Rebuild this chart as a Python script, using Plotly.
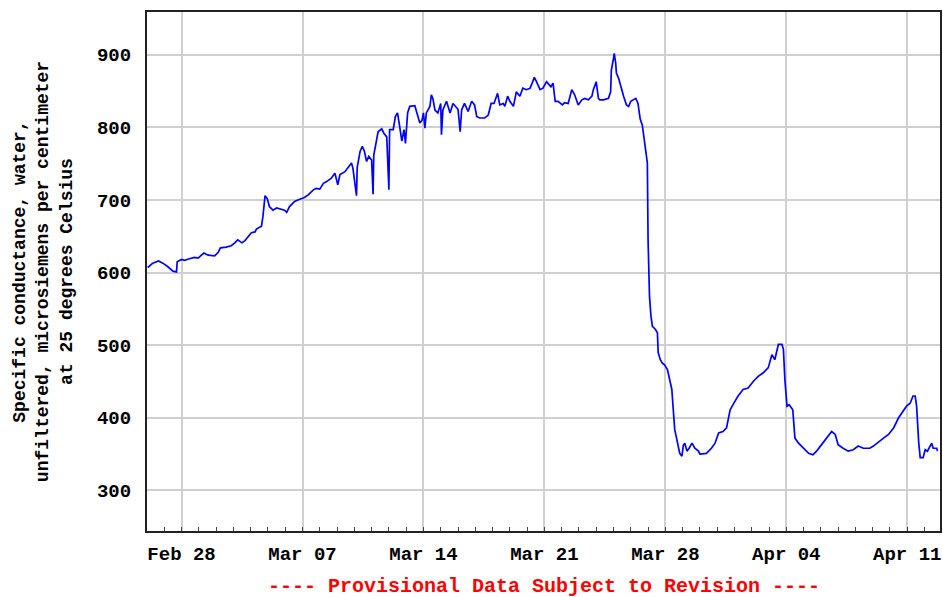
import pandas as pd
import plotly.graph_objects as go

# readings (local time) and specific conductance, uS/cm at 25 C
times = [
    "2023-02-26 01:00", "2023-02-26 08:00", "2023-02-26 16:00", "2023-02-26 22:00",
    "2023-02-27 05:00", "2023-02-27 12:00", "2023-02-27 17:00", "2023-02-27 18:00",
    "2023-02-28 00:00", "2023-02-28 04:00", "2023-02-28 11:00", "2023-02-28 18:00",
    "2023-02-28 23:00", "2023-03-01 07:00", "2023-03-01 13:00", "2023-03-01 22:00",
    "2023-03-02 03:00", "2023-03-02 06:00", "2023-03-02 14:00", "2023-03-02 21:00",
    "2023-03-03 02:00", "2023-03-03 06:00", "2023-03-03 12:00", "2023-03-03 16:00",
    "2023-03-04 01:00", "2023-03-04 06:00", "2023-03-04 08:00", "2023-03-04 15:00",
    "2023-03-04 17:00", "2023-03-04 20:00", "2023-03-04 23:00", "2023-03-05 02:00",
    "2023-03-05 07:00", "2023-03-05 12:00", "2023-03-05 23:00", "2023-03-06 02:00",
    "2023-03-06 06:00", "2023-03-06 13:00", "2023-03-06 20:00", "2023-03-07 02:00",
    "2023-03-07 08:00", "2023-03-07 15:00", "2023-03-07 19:00", "2023-03-08 00:00",
    "2023-03-08 05:00", "2023-03-08 09:00", "2023-03-08 16:00", "2023-03-08 21:00",
    "2023-03-09 01:00", "2023-03-09 04:00", "2023-03-09 11:00", "2023-03-09 15:00",
    "2023-03-09 20:00", "2023-03-09 22:00", "2023-03-10 03:00", "2023-03-10 04:00",
    "2023-03-10 08:00", "2023-03-10 11:00", "2023-03-10 14:00", "2023-03-10 17:00",
    "2023-03-10 20:00", "2023-03-11 00:00", "2023-03-11 02:00", "2023-03-11 03:00",
    "2023-03-11 07:00", "2023-03-11 09:00", "2023-03-11 14:00", "2023-03-11 17:00",
    "2023-03-11 21:00", "2023-03-12 00:00", "2023-03-12 01:00", "2023-03-12 06:00",
    "2023-03-12 09:00", "2023-03-12 12:00", "2023-03-12 15:00", "2023-03-12 18:00",
    "2023-03-12 21:00", "2023-03-12 23:00", "2023-03-13 02:00", "2023-03-13 05:00",
    "2023-03-13 12:00", "2023-03-13 16:00", "2023-03-13 19:00", "2023-03-13 22:00",
    "2023-03-14 00:00", "2023-03-14 02:00", "2023-03-14 04:00", "2023-03-14 09:00",
    "2023-03-14 11:00", "2023-03-14 13:00", "2023-03-14 16:00", "2023-03-14 20:00",
    "2023-03-15 00:00", "2023-03-15 01:00", "2023-03-15 03:00", "2023-03-15 08:00",
    "2023-03-15 13:00", "2023-03-15 17:00", "2023-03-16 00:00", "2023-03-16 03:00",
    "2023-03-16 05:00", "2023-03-16 09:00", "2023-03-16 14:00", "2023-03-16 19:00",
    "2023-03-16 23:00", "2023-03-17 02:00", "2023-03-17 06:00", "2023-03-17 13:00",
    "2023-03-17 18:00", "2023-03-17 22:00", "2023-03-18 02:00", "2023-03-18 07:00",
    "2023-03-18 10:00", "2023-03-18 15:00", "2023-03-18 17:00", "2023-03-18 21:00",
    "2023-03-19 00:00", "2023-03-19 05:00", "2023-03-19 09:00", "2023-03-19 14:00",
    "2023-03-19 18:00", "2023-03-19 23:00", "2023-03-20 04:00", "2023-03-20 07:00",
    "2023-03-20 10:00", "2023-03-20 13:00", "2023-03-20 18:00", "2023-03-20 22:00",
    "2023-03-21 03:00", "2023-03-21 09:00", "2023-03-21 12:00", "2023-03-21 15:00",
    "2023-03-21 19:00", "2023-03-22 01:00", "2023-03-22 04:00", "2023-03-22 09:00",
    "2023-03-22 14:00", "2023-03-22 18:00", "2023-03-22 23:00", "2023-03-23 04:00",
    "2023-03-23 08:00", "2023-03-23 13:00", "2023-03-23 18:00", "2023-03-23 20:00",
    "2023-03-24 00:00", "2023-03-24 03:00", "2023-03-24 05:00", "2023-03-24 10:00",
    "2023-03-24 17:00", "2023-03-24 20:00", "2023-03-24 21:00", "2023-03-25 00:00",
    "2023-03-25 01:00", "2023-03-25 03:00", "2023-03-25 04:00", "2023-03-25 07:00",
    "2023-03-25 10:00", "2023-03-25 14:00", "2023-03-25 18:00", "2023-03-25 21:00",
    "2023-03-26 00:00", "2023-03-26 03:00", "2023-03-26 07:00", "2023-03-26 10:00",
    "2023-03-26 13:00", "2023-03-26 16:00", "2023-03-26 19:00", "2023-03-26 21:00",
    "2023-03-26 23:00", "2023-03-27 00:00", "2023-03-27 02:00", "2023-03-27 04:00",
    "2023-03-27 06:00", "2023-03-27 10:00", "2023-03-27 13:00", "2023-03-27 14:00",
    "2023-03-27 17:00", "2023-03-27 20:00", "2023-03-27 23:00", "2023-03-28 03:00",
    "2023-03-28 06:00", "2023-03-28 09:00", "2023-03-28 11:00", "2023-03-28 13:00",
    "2023-03-28 17:00", "2023-03-28 20:00", "2023-03-28 23:00", "2023-03-29 01:00",
    "2023-03-29 03:00", "2023-03-29 06:00", "2023-03-29 09:00", "2023-03-29 13:00",
    "2023-03-29 17:00", "2023-03-29 22:00", "2023-03-30 00:00", "2023-03-30 09:00",
    "2023-03-30 16:00", "2023-03-30 21:00", "2023-03-31 02:00", "2023-03-31 08:00",
    "2023-03-31 13:00", "2023-03-31 18:00", "2023-03-31 22:00", "2023-04-01 05:00",
    "2023-04-01 12:00", "2023-04-01 19:00", "2023-04-02 02:00", "2023-04-02 09:00",
    "2023-04-02 16:00", "2023-04-02 23:00", "2023-04-03 04:00", "2023-04-03 08:00",
    "2023-04-03 13:00", "2023-04-03 18:00", "2023-04-03 20:00", "2023-04-03 22:00",
    "2023-04-04 01:00", "2023-04-04 04:00", "2023-04-04 09:00", "2023-04-04 12:00",
    "2023-04-04 17:00", "2023-04-05 00:00", "2023-04-05 07:00", "2023-04-05 13:00",
    "2023-04-05 18:00", "2023-04-06 01:00", "2023-04-06 08:00", "2023-04-06 15:00",
    "2023-04-06 20:00", "2023-04-07 00:00", "2023-04-07 07:00", "2023-04-07 14:00",
    "2023-04-07 21:00", "2023-04-08 04:00", "2023-04-08 11:00", "2023-04-08 20:00",
    "2023-04-09 01:00", "2023-04-09 08:00", "2023-04-09 15:00", "2023-04-09 22:00",
    "2023-04-10 05:00", "2023-04-10 12:00", "2023-04-10 19:00", "2023-04-10 23:00",
    "2023-04-11 04:00", "2023-04-11 08:00", "2023-04-11 11:00", "2023-04-11 13:00",
    "2023-04-11 16:00", "2023-04-11 18:00", "2023-04-11 22:00", "2023-04-12 01:00",
    "2023-04-12 04:00", "2023-04-12 08:00", "2023-04-12 10:00", "2023-04-12 12:00",
    "2023-04-12 17:00", "2023-04-12 18:00",
]

conductance = [
    607, 613, 616, 613, 608, 602, 601, 615, 618, 617, 619, 621,
    620, 627, 624, 623, 628, 634, 635, 637, 641, 645, 641, 644,
    655, 656, 660, 664, 677, 706, 702, 691, 686, 689, 686, 683,
    691, 698, 701, 703, 707, 714, 716, 715, 723, 725, 730, 737,
    721, 735, 739, 745, 751, 744, 706, 745, 767, 774, 767, 753,
    760, 755, 708, 762, 783, 794, 798, 792, 787, 714, 797, 797,
    815, 820, 801, 781, 797, 778, 820, 829, 830, 815, 806, 810,
    820, 799, 820, 829, 845, 840, 824, 820, 833, 790, 824, 836,
    820, 833, 825, 794, 824, 833, 822, 836, 831, 815, 813, 813,
    817, 833, 833, 847, 831, 833, 829, 843, 836, 829, 849, 843,
    854, 852, 854, 861, 869, 863, 852, 854, 863, 856, 861, 836,
    836, 831, 834, 833, 852, 845, 831, 838, 840, 838, 843, 852,
    863, 840, 838, 838, 840, 849, 879, 895, 902, 889, 875, 868,
    856, 843, 831, 829, 836, 838, 840, 833, 812, 803, 783, 767,
    751, 645, 567, 540, 526, 522, 517, 490, 480, 475, 473, 466,
    453, 439, 411, 384, 365, 351, 347, 362, 365, 354, 358, 365,
    358, 354, 350, 351, 358, 365, 379, 381, 386, 411, 418, 430,
    439, 441, 450, 457, 462, 469, 487, 480, 501, 501, 494, 453,
    416, 418, 411, 372, 365, 358, 351, 349, 354, 363, 372, 381,
    377, 363, 358, 354, 356, 361, 358, 358, 361, 367, 372, 377,
    386, 400, 411, 416, 420, 430, 430, 416, 365, 345, 345, 356,
    354, 363, 365, 358, 358, 354,
]

y_ticks = [300, 400, 500, 600, 700, 800, 900]
y_title = ("Specific conductance, water,<br>"
           "unfiltered, microsiemens per centimeter<br>"
           "at 25 degrees Celsius")
footer = "---- Provisional Data Subject to Revision ----"

FONT = "Liberation Mono, DejaVu Sans Mono, monospace"

df = pd.DataFrame({"time": pd.to_datetime(times), "value": conductance})

fig = go.Figure(go.Scatter(
    x=df["time"], y=df["value"], mode="lines",
    line=dict(color="#0000ff", width=1.7),
))

fig.update_layout(
    width=943, height=597,
    margin=dict(l=147, r=3, t=12, b=66),
    paper_bgcolor="white", plot_bgcolor="white",
    showlegend=False,
    font=dict(family=FONT, size=18, color="black", weight="bold"),
)

fig.update_xaxes(
    range=["2023-02-26 00:00", "2023-04-12 21:30"],
    tick0="2023-02-28", dtick=7 * 86400000, tickformat="%b %d",
    showgrid=True, gridcolor="#d0d0d0", gridwidth=2,
    showline=True, linecolor="#222222", linewidth=2, mirror=True,
    ticks="inside", ticklen=4, tickcolor="#444444",
    ticklabelstandoff=4, automargin=False,
    minor=dict(dtick=86400000, tick0="2023-02-28", ticks="inside",
               ticklen=4, tickcolor="#444444", showgrid=False),
    zeroline=False,
    tickfont=dict(family=FONT, size=19, color="black", weight="bold"),
)

fig.update_yaxes(
    range=[244, 959], tickvals=y_ticks,
    showgrid=True, gridcolor="#d0d0d0", gridwidth=2,
    showline=True, linecolor="#222222", linewidth=2, mirror=True,
    ticks="", ticklabelstandoff=10, zeroline=False, automargin=False,
    tickfont=dict(family=FONT, size=19, color="black", weight="bold"),
    title=dict(text=y_title, standoff=20,
               font=dict(family=FONT, size=18, color="black", weight="bold")),
)

fig.add_annotation(
    text=footer, xref="paper", yref="paper", x=0.5, y=-0.106,
    xanchor="center", yanchor="middle", showarrow=False,
    font=dict(family=FONT, size=20, color="#ff0000", weight="bold"),
)

# the page's default 8px body margin would push the fixed-size figure off the window
fig.write_html("out.html", config={"displayModeBar": False},
               post_script="document.body.style.margin = '0px';")
